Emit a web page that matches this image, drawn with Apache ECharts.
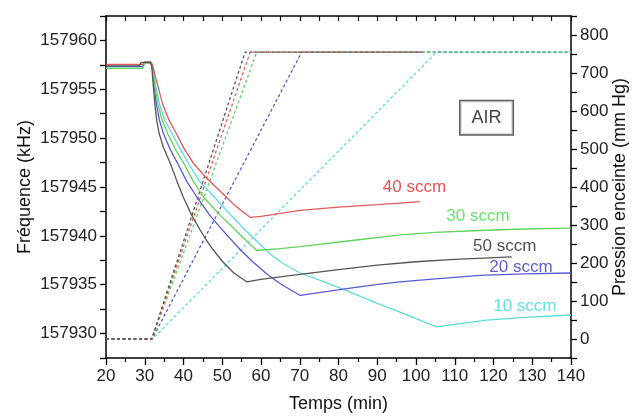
<!DOCTYPE html>
<html><head><meta charset="utf-8">
<script src="https://cdn.jsdelivr.net/npm/echarts@6/dist/echarts.min.js"></script>
<style>html,body{margin:0;padding:0;background:#fff}#c{width:633px;height:416px}</style>
</head><body><div id="c"></div>
<script>
// ---- frequency (kHz) vs time (min), solid lines ----
const t50 = [20, 28.6, 29.1, 31.4, 31.8, 32.2, 32.6, 33.1, 33.7, 34.8, 36.6, 38.3, 39.9, 42, 44.3, 46, 47.7, 50, 53, 56.3, 60, 65, 70, 80, 90, 100, 110, 124.7];
const f50 = [157957.4, 157957.4, 157957.75, 157957.75, 157957.4, 157955.4, 157953.5, 157951.8, 157950.5, 157949.1, 157947.4, 157945.6, 157944.0, 157942.2, 157940.6, 157939.5, 157938.55, 157937.4, 157936.2, 157935.3, 157935.55, 157935.8, 157936.05, 157936.55, 157937.0, 157937.35, 157937.6, 157937.85];

const t40 = [20, 29.5, 30, 31.6, 32.0, 33.2, 34.6, 36.2, 38.1, 40.2, 42.6, 45.5, 48.6, 51.1, 53, 55.2, 57.2, 60, 65, 70.1, 80, 90, 95.9, 101];
const f40 = [157957.55, 157957.55, 157957.8, 157957.8, 157957.5, 157955.6, 157953.5, 157951.9, 157950.5, 157948.9, 157947.4, 157946.1, 157944.9, 157943.95, 157943.2, 157942.5, 157941.9, 157942.0, 157942.3, 157942.6, 157942.95, 157943.2, 157943.36, 157943.5];

const t30 = [20, 29.5, 30, 31.5, 32.0, 32.6, 33.4, 34.4, 35.9, 38, 40.1, 42.5, 45.1, 49, 53.9, 56.5, 58.9, 65, 70.1, 83, 95.9, 105, 116.5, 128, 140];
const f30 = [157957.15, 157957.15, 157957.7, 157957.7, 157957.3, 157955.3, 157953.5, 157951.9, 157950.5, 157948.8, 157947.4, 157945.6, 157944.0, 157942.3, 157940.4, 157939.4, 157938.5, 157938.7, 157938.9, 157939.5, 157940.1, 157940.35, 157940.55, 157940.7, 157940.8];

const t20 = [20, 29.5, 30, 31.5, 31.9, 32.4, 33.0, 33.8, 34.8, 36.5, 38.5, 40.8, 43.4, 47, 50.7, 54.6, 58, 61.5, 65, 70.1, 75, 83, 90.7, 95.9, 105, 116.5, 128, 140];
const f20 = [157957.35, 157957.35, 157957.7, 157957.7, 157957.4, 157955.4, 157953.5, 157951.8, 157950.5, 157948.9, 157947.4, 157945.6, 157944.0, 157942.0, 157940.3, 157938.6, 157937.3, 157936.1, 157935.1, 157933.9, 157934.2, 157934.65, 157935.05, 157935.3, 157935.6, 157935.95, 157936.1, 157936.2];

const t10 = [20, 29.5, 30, 31.6, 32.0, 32.8, 33.8, 35.2, 37.0, 39, 41.3, 44.5, 48.6, 52.5, 55.9, 62.5, 66, 70.1, 76, 83, 90, 95.9, 100.5, 105.3, 110, 118.2, 128, 140];
const f10 = [157957.3, 157957.3, 157957.75, 157957.75, 157957.4, 157955.4, 157953.5, 157951.8, 157950.5, 157949.0, 157947.4, 157945.4, 157943.7, 157942.0, 157940.6, 157938.1, 157937.1, 157936.2, 157935.35, 157934.25, 157933.1, 157932.2, 157931.45, 157930.68, 157930.95, 157931.37, 157931.65, 157931.9];

// ---- chamber pressure (mm Hg) vs time, dashed lines ----
const pT50 = [20, 31.8, 55.9, 101.5], pP50 = [0, 0, 755, 755];
const pT40 = [20, 31.8, 57.2, 101.5], pP40 = [0, 0, 755, 755];
const pT30 = [20, 31.9, 58.9, 140],   pP30 = [0, 0, 755, 755];
const pT20 = [20, 31.9, 70.5, 140],   pP20 = [0, 0, 755, 755];
const pT10 = [20, 32.0, 105.3, 140],  pP10 = [0, 0, 755, 755];

// ---- annotations (data coordinates) ----
const labelText = ['40 sccm', '30 sccm', '50 sccm', '20 sccm', '10 sccm'];
const labelT = [99.6, 116.0, 122.9, 127.1, 128.1];
const labelF = [157944.92, 157942.0, 157938.94, 157936.74, 157932.8];
const boxText = 'AIR', boxT = 118.2, boxF = 157952.08;

const zip = (a, b) => a.map((v, i) => [v, b[i]]);
const FONT = '"Liberation Sans", Arial, sans-serif';

const C = {
  k: '#555555', r: '#e25a5a', g: '#5fd45f', b: '#5a5ad4', c: '#5cdcdc'
};
const LC = {
  k: '#1e1e1e', r: '#e02828', g: '#48d848', b: '#3535c4', c: '#38dcdc'
};

function solid(name, t, f, col) {
  return { name, type: 'line', xAxisIndex: 0, yAxisIndex: 0, data: zip(t, f),
    showSymbol: false, symbol: 'none', smooth: false,
    lineStyle: { color: col, width: 1.3 }, z: 3, animation: false };
}
function dashed(name, t, p, col) {
  return { name, type: 'line', xAxisIndex: 0, yAxisIndex: 1, data: zip(t, p),
    showSymbol: false, symbol: 'none', lineStyle: { color: col, width: 1.3, type: [3, 2.5] }, z: 2, animation: false };
}

const series = [
  dashed('p10', pT10, pP10, C.c),
  dashed('p20', pT20, pP20, C.b),
  dashed('p30', pT30, pP30, C.g),
  dashed('p40', pT40, pP40, C.r),
  dashed('p50', pT50, pP50, C.k),
  solid('10 sccm', t10, f10, C.c),
  solid('20 sccm', t20, f20, C.b),
  solid('30 sccm', t30, f30, C.g),
  solid('40 sccm', t40, f40, C.r),
  solid('50 sccm', t50, f50, C.k)
];
const labelColors = [LC.r, LC.g, LC.k, LC.b, LC.c];
series.push({
  type: 'scatter', xAxisIndex: 0, yAxisIndex: 0, symbolSize: 1, silent: true,
  itemStyle: { color: 'rgba(0,0,0,0)' }, animation: false, z: 5,
  data: labelText.map((s, i) => ({
    value: [labelT[i], labelF[i]],
    label: { show: true, position: 'inside', formatter: s, color: labelColors[i], fontSize: 17, fontFamily: FONT }
  })).concat([{
    value: [boxT, boxF],
    label: { show: true, position: 'inside', formatter: boxText, color: '#111', fontSize: 18, fontFamily: FONT,
      borderColor: '#333', borderWidth: 1.5, padding: [8, 11, 7, 11], backgroundColor: '#fff' }
  }])
});

const axisLine = { show: true, onZero: false, lineStyle: { color: '#000', width: 1.5 } };
const option = {
  backgroundColor: '#fff',
  animation: false,
  grid: { left: 106, right: 62, top: 16, bottom: 58, containLabel: false, outerBoundsMode: 'none' },
  xAxis: [
    { type: 'value', position: 'bottom', min: 20, max: 140, interval: 10,
      name: 'Temps (min)', nameLocation: 'middle', nameGap: 37, nameMoveOverlap: false,
      nameTextStyle: { fontSize: 18, color: '#111', fontFamily: FONT },
      axisLine, splitLine: { show: false },
      axisTick: { show: true, inside: false, length: 7, lineStyle: { color: '#000', width: 1.3 } },
      minorTick: { show: true, splitNumber: 2, length: 4, lineStyle: { color: '#000', width: 1.2 } },
      axisLabel: { fontSize: 17, color: '#222', margin: 10, fontFamily: FONT } },
    { type: 'value', position: 'top', min: 20, max: 140, interval: 5,
      axisLine, splitLine: { show: false }, axisLabel: { show: false },
      axisTick: { show: true, inside: true, length: 5, lineStyle: { color: '#000', width: 1.2 } } }
  ],
  yAxis: [
    { type: 'value', position: 'left', min: 157927.5, max: 157962.5, interval: 2.5,
      name: 'Fréquence (kHz)', nameLocation: 'middle', nameGap: 72, nameRotate: 90, nameMoveOverlap: false,
      nameTextStyle: { fontSize: 18, color: '#111', fontFamily: FONT },
      axisLine, splitLine: { show: false },
      axisTick: { show: true, inside: false, length: 6, lineStyle: { color: '#000', width: 1.3 } },
      axisLabel: { fontSize: 17, color: '#222', margin: 9, fontFamily: FONT,
        formatter: v => (Math.abs(v % 5) < 1e-6 ? String(Math.round(v)) : '') } },
    { type: 'value', position: 'right', min: -50, max: 850, interval: 50,
      name: 'Pression enceinte (mm Hg)', nameLocation: 'middle', nameGap: 40, nameRotate: 90, nameMoveOverlap: false,
      nameTextStyle: { fontSize: 18, color: '#111', fontFamily: FONT },
      axisLine, splitLine: { show: false },
      axisTick: { show: true, inside: false, length: 6, lineStyle: { color: '#000', width: 1.3 } },
      axisLabel: { fontSize: 17, color: '#222', margin: 9, fontFamily: FONT,
        formatter: v => (Math.abs(v % 100) < 1e-6 ? String(v) : '') } }
  ],
  series
};
const chart = echarts.init(document.getElementById('c'), null, { renderer: 'canvas' });
chart.setOption(option);
</script></body></html>
